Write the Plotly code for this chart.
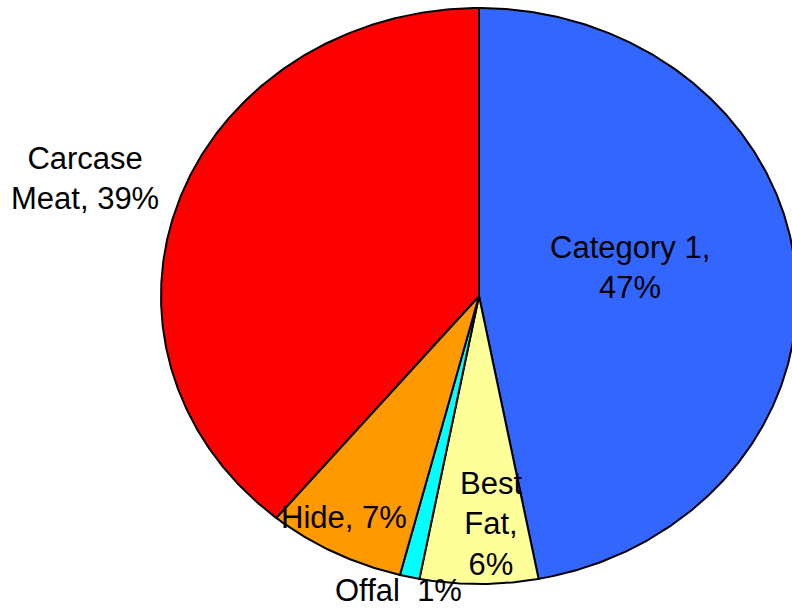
import numpy as np
import plotly.graph_objects as go

# Composition of a slaughtered animal, share by mass (%)
categories = ["Category 1", "Best Fat", "Offal", "Hide", "Carcase Meat"]
shares = [47, 6, 1, 7, 39]
colors = ["#3366FF", "#FFFF99", "#00FFFF", "#FF9900", "#FF0000"]
label_texts = ["Category 1,<br>47%", "Best<br>Fat,<br>6%", "Offal  1%",
               "Hide, 7%", "Carcase<br>Meat, 39%"]

W, H = 792, 610
CX, CY = 479, H - 296      # ellipse centre (plot units = pixels, y up)
RX, RY = 318, 288          # horizontal / vertical radii

fig = go.Figure()

# Wedges run clockwise from 12 o'clock
fractions = np.array(shares, dtype=float) / sum(shares)
edges = np.concatenate([[0.0], np.cumsum(fractions)]) * 2 * np.pi
for name, a0, a1, col in zip(categories, edges[:-1], edges[1:], colors):
    t = np.linspace(a0, a1, max(4, int((a1 - a0) * 120)))
    xs = np.concatenate([[CX], CX + RX * np.sin(t), [CX]])
    ys = np.concatenate([[CY], CY + RY * np.cos(t), [CY]])
    fig.add_trace(go.Scatter(
        x=xs, y=ys, mode="lines", fill="toself", fillcolor=col,
        line=dict(color="black", width=2), name=name,
        hoverinfo="name", showlegend=False,
    ))

# Label anchors (centre of each text block)
label_pos = {
    "Category 1": (630, H - 267),
    "Best Fat": (491, H - 524),
    "Offal": (398, H - 590),
    "Hide": (344, H - 517),
    "Carcase Meat": (85, H - 178),
}
for name, text in zip(categories, label_texts):
    x, y = label_pos[name]
    fig.add_annotation(x=x, y=y, text=text, showarrow=False,
                       xanchor="center", yanchor="middle", align="center",
                       font=dict(family="Liberation Sans, Arial, sans-serif",
                                 size=31, color="black"))

fig.update_layout(
    width=W, height=H,
    margin=dict(l=0, r=0, t=0, b=0),
    paper_bgcolor="white", plot_bgcolor="white",
    xaxis=dict(range=[0, W], visible=False, fixedrange=True),
    yaxis=dict(range=[0, H], visible=False, fixedrange=True),
)

fig.write_html("out.html")
